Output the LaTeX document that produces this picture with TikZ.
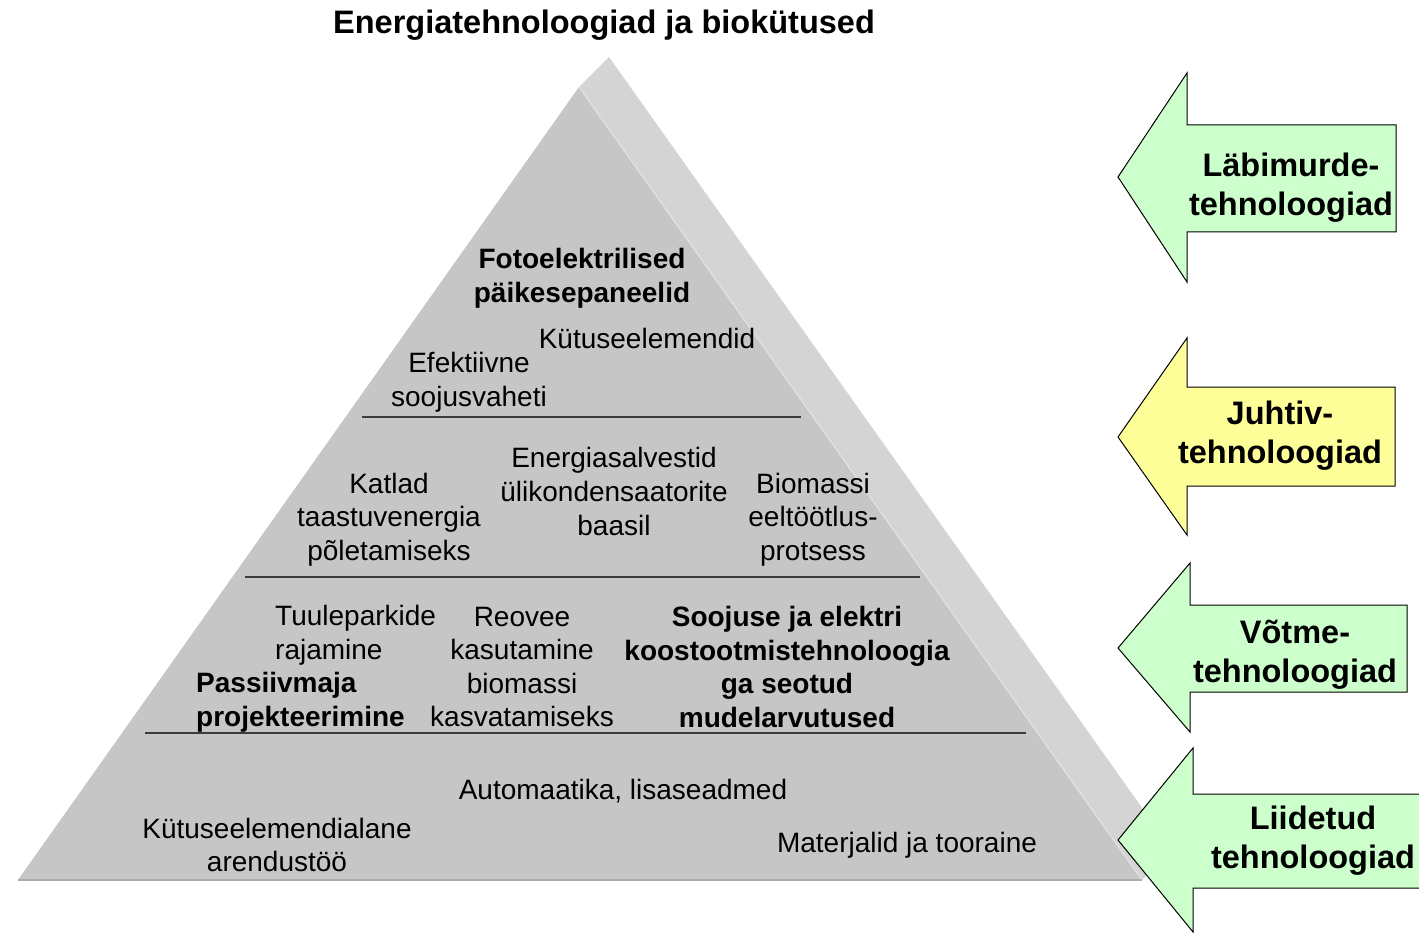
\documentclass[tikz,border=0pt]{standalone}
\usepackage{fontspec}
\setmainfont{Liberation Sans}
\definecolor{frontgray}{HTML}{C6C6C6}
\definecolor{sidegray}{HTML}{D4D4D4}
\definecolor{basegray}{HTML}{ABABAB}
\definecolor{edgelight}{HTML}{E2E2E2}
\definecolor{divline}{HTML}{3C3C3C}
\definecolor{arrgreen}{HTML}{CCFFCC}
\definecolor{arryellow}{HTML}{FFFF99}
\tikzset{
  txt/.style={font=\fontsize{28}{33.6}\selectfont, align=center, inner sep=0pt, text=black},
  btxt/.style={txt, font=\fontsize{28}{33.6}\selectfont\bfseries},
  lbl/.style={font=\fontsize{32.5}{39}\selectfont\bfseries, align=center, inner sep=0pt},
  divider/.style={draw=divline, line width=1.5pt},
  blockarrow/.style={draw=black, line width=1pt, line join=miter},
}
\begin{document}
\begin{tikzpicture}[x=1pt,y=-1pt]
\clip (0,0) rectangle (1419,933);
\fill[white] (0,0) rectangle (1419,933);
% pyramid
\coordinate (apexF) at (579,87);
\coordinate (apexS) at (609,57);
\coordinate (baseL) at (18,880);
\coordinate (baseR) at (1142,880);
\coordinate (baseS) at (1172,850);
\fill[sidegray] (apexF) -- (apexS) -- (baseS) -- (baseR) -- cycle;
\fill[frontgray] (apexF) -- (baseR) -- (baseL) -- cycle;
\draw[edgelight, line width=1.2pt] (apexF) -- (baseR);
\draw[basegray, line width=2pt] (baseL) -- (baseR);
% dividers
\coordinate (d1a) at (362,417); \coordinate (d1b) at (801,417);
\coordinate (d2a) at (245,577); \coordinate (d2b) at (920,577);
\coordinate (d3a) at (145,733); \coordinate (d3b) at (1026,733);
\draw[divider] (d1a) -- (d1b);
\draw[divider] (d2a) -- (d2b);
\draw[divider] (d3a) -- (d3b);
% title
\node[lbl] (title) at (604,25) {Energiatehnoloogiad ja biokütused};
% texts
\node[btxt] (foto) at (582,278) {Fotoelektrilised\\päikesepaneelid};
\node[txt] (kytus) at (647,338) {Kütuseelemendid};
\node[txt] (efekt) at (469,382.5) {Efektiivne\\soojusvaheti};
\node[txt] (katlad) at (389,519.5) {Katlad\\taastuvenergia\\põletamiseks};
\node[txt] (energ) at (614,491.5) {Energiasalvestid\\ülikondensaatorite\\baasil};
\node[txt] (biom) at (813,519.5) {Biomassi\\eeltöötlus-\\protsess};
\node[txt, anchor=west, align=left] (tuul) at (275,635) {Tuuleparkide\\rajamine};
\node[btxt, anchor=west, align=left] (passiiv) at (196,702) {Passiivmaja\\projekteerimine};
\node[txt] (reovee) at (522,667) {Reovee\\kasutamine\\biomassi\\kasvatamiseks};
\node[btxt] (soojus) at (787,667) {Soojuse ja elektri\\koostootmistehnoloogia\\ga seotud\\mudelarvutused};
\node[txt] (autom) at (623,791) {Automaatika, lisaseadmed};
\node[txt] (kyt2) at (277,845) {Kütuseelemendialane\\arendustöö};
\node[txt] (mater) at (907,845) {Materjalid ja tooraine};
% arrows
\draw[blockarrow, fill=arrgreen] (1118,177) -- (1187,73) -- (1187,125) -- (1396,125) -- (1396,232) -- (1187,232) -- (1187,282) -- cycle;
\node[lbl] (a1) at (1291,188) {Läbimurde-\\tehnoloogiad};
\draw[blockarrow, fill=arryellow] (1118,437) -- (1187,338) -- (1187,387) -- (1395,387) -- (1395,486) -- (1187,486) -- (1187,535) -- cycle;
\node[lbl] (a2) at (1280,436) {Juhtiv-\\tehnoloogiad};
\draw[blockarrow, fill=arrgreen] (1118,648) -- (1190,563) -- (1190,605) -- (1407,605) -- (1407,692) -- (1190,692) -- (1190,732) -- cycle;
\node[lbl] (a3) at (1295,655) {Võtme-\\tehnoloogiad};
\draw[blockarrow, fill=arrgreen] (1118,840) -- (1193,748) -- (1193,794) -- (1430,794) -- (1430,888) -- (1193,888) -- (1193,932) -- cycle;
\node[lbl] (a4) at (1313,841) {Liidetud\\tehnoloogiad};
\end{tikzpicture}
\end{document}
